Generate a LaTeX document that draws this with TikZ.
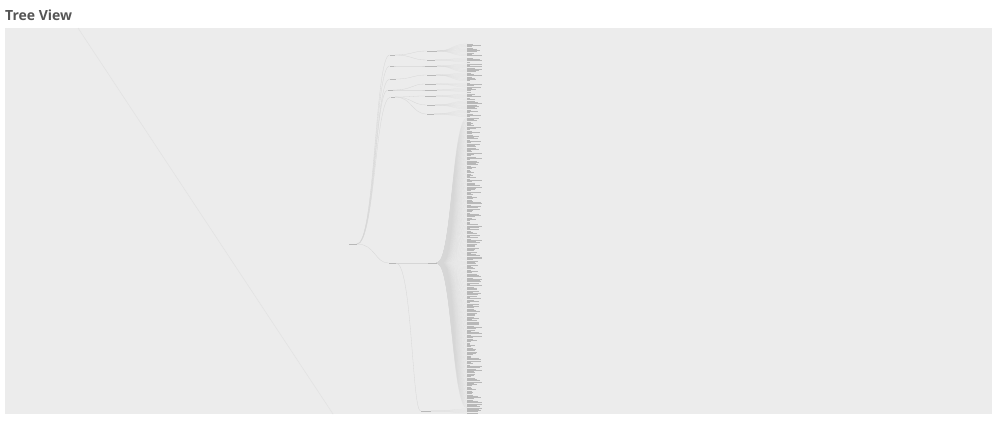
\documentclass[tikz,border=0pt]{standalone}
\usepackage{fontspec}
\setmainfont{Open Sans}
\definecolor{panel}{HTML}{ECECEC}
\definecolor{titlec}{HTML}{555555}
\definecolor{edgec}{HTML}{D6D6D6}
\definecolor{diagc}{HTML}{E3E3E3}
\definecolor{lblc}{HTML}{B8B8B8}
\begin{document}
\begin{tikzpicture}[x=1pt,y=-1pt,
  edge/.style={draw=edgec,line width=0.3pt},
  fanedge/.style={draw=edgec,line width=0.25pt,opacity=0.5},
  lbl/.style={fill=lblc,inner sep=0pt,minimum height=1pt,minimum width=#1,anchor=east},
  leaf/.style={fill=lblc,inner sep=0pt,minimum height=0.8pt,minimum width=#1,anchor=west}]
\useasboundingbox (0,0) rectangle (1000,421);
\fill[white] (0,0) rectangle (1000,421);
\node[anchor=west,text=titlec,font=\fontsize{14}{16}\selectfont\bfseries,inner sep=0pt] (title) at (5,15) {Tree View};
\fill[panel] (5,28) rectangle (992,414);
\draw[diagc,line width=0.6pt] (78,28) -- (333,414);
% root and internal nodes
\node[lbl=8pt] (r) at (357,244) {};
\foreach \n/\x/\y/\w in {a1/395/55/5,a2/394/66/4,a3/396/79/6,a4/393/90/5,a5/395/97/4,a6/396/263/7}{
  \node[lbl=\w pt] (\n) at (\x,\y) {};
  \draw[edge] (r.east) .. controls (375,244) and (375,\y) .. (\n.west);
}
\foreach \n/\pa/\py/\x/\y/\w in {b1/a1/55/437/51/10,b2/a1/55/435/60/8,b3/a2/66/437/66/12,b4/a3/79/436/75/9,b5/a4/90/436/84/11,b6/a4/90/437/90/12,b7/a5/97/436/96/11,b8/a5/97/435/105/8,b9/a5/97/434/114/7,b10/a6/263/437/263/9,b11/a6/263/431/411/10}{
  \node[lbl=\w pt] (\n) at (\x,\y) {};
  \draw[edge] (\pa.east) .. controls (412,\py) and (412,\y) .. (\n.west);
}
% leaves
\pgfmathsetseed{7}
\foreach \p/\py/\ys/\ye in {b1/51/44/57,b2/60/58/63,b3/66/64/72,b4/75/73/82,b5/84/83/87,b6/90/88/93,b7/96/94/100,b8/105/101/109,b9/114/110/117,b10/263/118/408,b11/411/409/413.5}{
  \pgfmathsetmacro{\ysn}{\ys+1.3}
  \foreach \y [count=\k] in {\ys,\ysn,...,\ye}{
    \pgfmathrandominteger{\w}{3}{15}
    \node[leaf=\w pt] (\p l\k) at (467,\y) {};
    \draw[fanedge] (\p.east) .. controls (452,\py) and (452,\y) .. (\p l\k.west);
  }
}
\end{tikzpicture}
\end{document}
